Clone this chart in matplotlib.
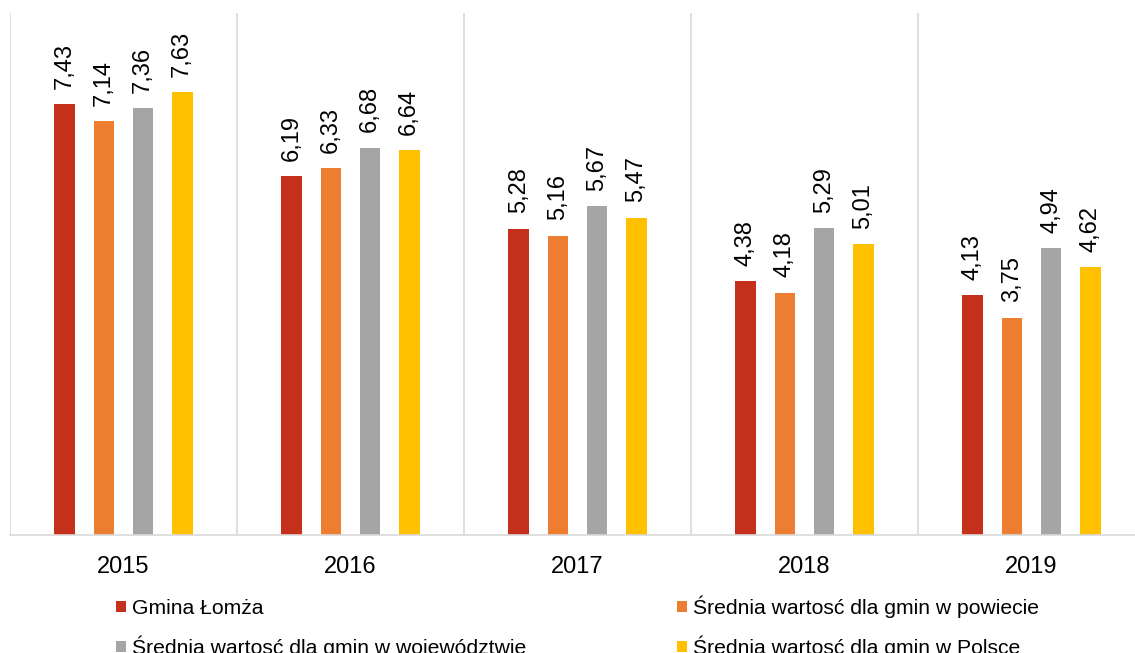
import numpy as np
from matplotlib import pyplot as plt

plt.rcParams['font.family'] = ['Liberation Sans', 'DejaVu Sans']

# dane
years = ['2015', '2016', '2017', '2018', '2019']
series = ['Gmina Łomża',
          'Średnia wartosć dla gmin w powiecie',
          'Średnia wartosć dla gmin w województwie',
          'Średnia wartosć dla gmin w Polsce']
lomza = [7.43, 6.19, 5.28, 4.38, 4.13]
powiat = [7.14, 6.33, 5.16, 4.18, 3.75]
wojewodztwo = [7.36, 6.68, 5.67, 5.29, 4.94]
polska = [7.63, 6.64, 5.47, 5.01, 4.62]
values = [lomza, powiat, wojewodztwo, polska]
colors = ['#c5301c', '#ed7d31', '#a5a5a5', '#ffc000']

fig = plt.figure(figsize=(11.35, 6.53), dpi=100)
ax = fig.add_axes([10 / 1135, 1 - 535 / 653, 1135 / 1135, (535 - 13) / 653])

x = np.arange(len(years))
width = 0.092
step = 0.172
bars = []
for i, (vals, col) in enumerate(zip(values, colors)):
    b = ax.bar(x + (i - 1.5) * step, vals, width, color=col, label=series[i])
    bars.append(b)
    for rect, v in zip(b, vals):
        ax.annotate(f'{v:.2f}'.replace('.', ','),
                    (rect.get_x() + rect.get_width() / 2, rect.get_height()),
                    xytext=(0, 11), textcoords='offset points',
                    ha='center', va='bottom', rotation=90, fontsize=17)

ax.set_xlim(-0.5, len(years) - 0.5)
ax.set_ylim(0, 9)
ax.set_xticks(x)
ax.set_xticklabels(years, fontsize=17)
ax.tick_params(axis='x', length=0, pad=15)
ax.set_yticks([])

# linie siatki między kategoriami
for b in np.arange(-0.5, len(years), 1):
    ax.axvline(b, color='#d9d9d9', lw=1.2, zorder=0)

for s in ['top', 'right', 'left']:
    ax.spines[s].set_visible(False)
ax.spines['bottom'].set_color('#d9d9d9')
ax.spines['bottom'].set_linewidth(1.2)

# legenda
order = [0, 2, 1, 3]
fig.legend([bars[i] for i in order], [series[i] for i in order],
           ncol=2, frameon=False, fontsize=15.2,
           loc='upper left', bbox_to_anchor=(108 / 1135, 1 - 587 / 653),
           handlelength=0.47, handleheight=0.47, handletextpad=0.28,
           columnspacing=7.15, labelspacing=0.84, borderaxespad=0)

fig.savefig('out.png', dpi=100)
